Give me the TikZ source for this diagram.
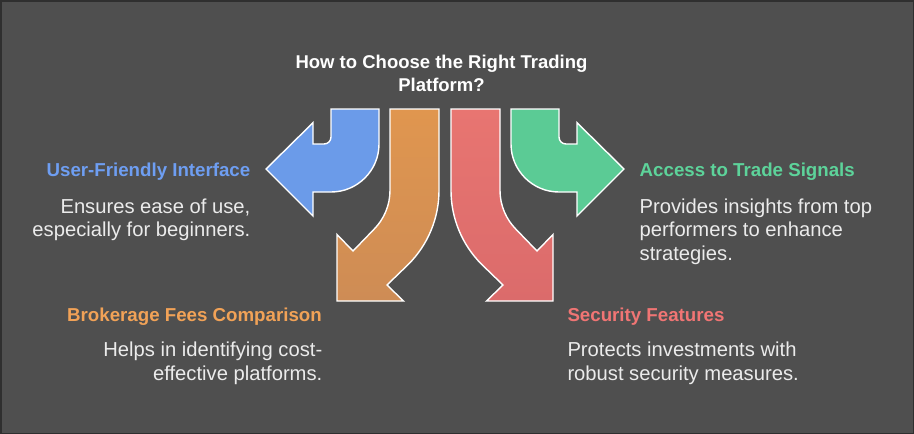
\documentclass[tikz,border=0pt]{standalone}
\usepackage{fontspec}
\setmainfont{Liberation Sans}
\definecolor{bg}{HTML}{4F4F4F}
\definecolor{frame}{HTML}{2F2F2F}
\definecolor{cblue}{HTML}{6B9BE9}
\definecolor{cgreen}{HTML}{5BCB95}
\definecolor{corangeT}{HTML}{E0964F}
\definecolor{corangeB}{HTML}{CE8C55}
\definecolor{credT}{HTML}{E87571}
\definecolor{credB}{HTML}{DB6B6B}
\definecolor{tblue}{HTML}{6E9EF2}
\definecolor{tgreen}{HTML}{5DD39A}
\definecolor{torange}{HTML}{F1A257}
\definecolor{tred}{HTML}{F07574}
\definecolor{tbody}{HTML}{EBEBEB}
\tikzset{
  arrowshape/.style={draw=white, line width=1.4pt, line join=miter},
  titletext/.style={inner sep=0pt, text=white, font=\fontsize{18.5}{23.4}\selectfont\bfseries, align=center},
  headtext/.style={inner sep=0pt, font=\fontsize{18.7}{23.4}\selectfont\bfseries},
  bodytext/.style={inner sep=0pt, text=tbody, font=\fontsize{20.2}{23.4}\selectfont},
}
\begin{document}
\begin{tikzpicture}[x=1pt,y=-1pt]
\fill[bg] (0,0) rectangle (914,434);
\draw[frame, line width=1.5pt] (0.75,0.75) rectangle (913.25,433.25);
\useasboundingbox (0,0) rectangle (914,434);

% blue arrow (left)
\path[arrowshape, fill=cblue] (379,109) -- (331,109) -- (331,137)
  .. controls (331,140.9) and (327.9,144) .. (324,144) -- (313,144) -- (313,122.7)
  -- (266,169) -- (313,216) -- (313,192) -- (331,192)
  .. controls (357.5,192) and (379,170.5) .. (379,144) -- cycle;

% green arrow (right)
\path[arrowshape, fill=cgreen] (511,109) -- (559,109) -- (559,137)
  .. controls (559,140.9) and (562.1,144) .. (566,144) -- (577,144) -- (577,122.7)
  -- (624,169) -- (577,216) -- (577,192) -- (559,192)
  .. controls (532.5,192) and (511,170.5) .. (511,144) -- cycle;

% orange arrow
\path[arrowshape, top color=corangeT, bottom color=corangeB] (390,109) -- (439,109) -- (439,190.4)
  .. controls (439,218.1) and (428,244.7) .. (408.4,264.3) -- (387,285) -- (403.5,301)
  -- (337,301) -- (337,234.5) -- (353,251) -- (373.7,229.6)
  .. controls (384.1,219.2) and (390,205.1) .. (390,190.4) -- cycle;

% red arrow
\path[arrowshape, top color=credT, bottom color=credB] (500,109) -- (451,109) -- (451,190.4)
  .. controls (451,218.1) and (462,244.7) .. (481.6,264.3) -- (503,285) -- (486.5,301)
  -- (553,301) -- (553,234.5) -- (537,251) -- (516.3,229.6)
  .. controls (505.9,219.2) and (500,205.1) .. (500,190.4) -- cycle;

% title (base anchor = baseline of last line)
\node[titletext, anchor=base] (title) at (441.5,91.7) {How to Choose the Right Trading\\Platform?};

% user-friendly
\node[headtext, text=tblue, anchor=base east] (h1) at (250.5,176.7) {User-Friendly Interface};
\node[bodytext, anchor=base east, align=right] (b1) at (250.5,236.7) {Ensures ease of use,\\especially for beginners.};

% access
\node[headtext, text=tgreen, anchor=base west] (h2) at (639.5,176.7) {Access to Trade Signals};
\node[bodytext, anchor=base west, align=left] (b2) at (639.5,260) {Provides insights from top\\performers to enhance\\strategies.};

% brokerage
\node[headtext, text=torange, anchor=base east] (h3) at (322,321.7) {Brokerage Fees Comparison};
\node[bodytext, anchor=base east, align=right] (b3) at (322.5,380) {Helps in identifying cost-\\effective platforms.};

% security
\node[headtext, text=tred, anchor=base west] (h4) at (567.3,321.7) {Security Features};
\node[bodytext, anchor=base west, align=left] (b4) at (567.3,380) {Protects investments with\\robust security measures.};
\end{tikzpicture}
\end{document}
